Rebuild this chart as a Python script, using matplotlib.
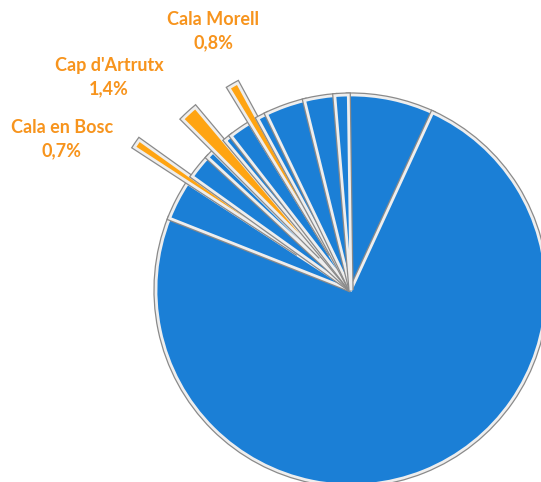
import matplotlib.pyplot as plt
import matplotlib.patheffects as pe

# slices in clockwise order starting just left of 12 o'clock
labels = ["", "", "", "Cala en Bosc", "", "", "Cap d'Artrutx", "", "",
          "Cala Morell", "", "", "", ""]
values = [7.1, 74.2, 3.2, 0.7, 2.0, 0.6, 1.4, 0.6, 1.8, 0.8, 0.8, 3.3, 2.5, 1.1]
shown_pct = {"Cala en Bosc": "0,7%", "Cap d'Artrutx": "1,4%", "Cala Morell": "0,8%"}

BLUE = "#1b7fd6"
ORANGE = "#ffa412"
TEXT_ORANGE = "#f7941d"

W, H = 541, 482
cx, cy, r = 351, 290, 195

fig = plt.figure(figsize=(W / 100, H / 100), dpi=100)
ax = fig.add_axes([0, 0, 1, 1])

colors = [ORANGE if lab else BLUE for lab in labels]
explode_by = {"Cala en Bosc": 0.33, "Cap d'Artrutx": 0.23, "Cala Morell": 0.21}
explode = [explode_by.get(lab, 0.0) for lab in labels]

wedges, _ = ax.pie(values, colors=colors, explode=explode, startangle=90.8,
                   counterclock=False, radius=1.0,
                   wedgeprops=dict(edgecolor="#eeeeee", linewidth=2.0))
for w in wedges:
    w.set_path_effects([pe.Stroke(linewidth=3.8, foreground="#8a8a8a"), pe.Normal()])
    w.set_clip_on(False)

ax.set_aspect("auto")
ax.set_xlim(-cx / r, (W - cx) / r)
ax.set_ylim((cy - H) / r, cy / r)
ax.axis("off")

# label positions in pixels (centre of the two-line block)
label_pos = {"Cala en Bosc": (62, 139), "Cap d'Artrutx": (109, 77), "Cala Morell": (213, 31)}
for name, (px, py) in label_pos.items():
    fig.text(px / W, 1 - py / H, name + "\n" + shown_pct[name], ha="center", va="center",
             color=TEXT_ORANGE, fontsize=13, fontweight="bold", family="Lato",
             linespacing=1.4)

fig.savefig("out.png", dpi=100)
